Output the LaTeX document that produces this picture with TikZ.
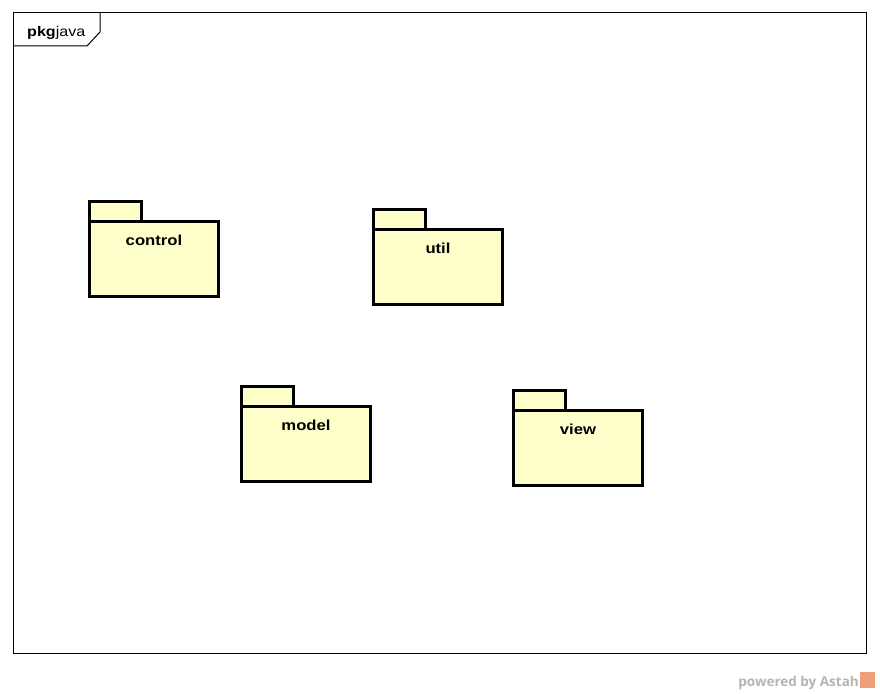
\documentclass[tikz,border=0pt]{standalone}
\usepackage{fontspec}
\setmainfont{Liberation Sans}
\newfontfamily\pkgfont[FakeStretch=1.15]{Liberation Sans}
\newfontfamily\wmfont{Open Sans}
\definecolor{pkgfill}{RGB}{255,255,204}
\definecolor{wmgray}{RGB}{180,180,180}
\definecolor{wmorange}{RGB}{236,160,120}
\begin{document}
\begin{tikzpicture}[x=1pt,y=-1pt,
  pkgline/.style={draw=black,line width=3pt,fill=pkgfill,line join=miter,outer sep=0pt},
  pkgbody/.style={pkgline,rectangle,minimum width=129pt,minimum height=75pt,anchor=north west,inner sep=0pt},
  pkgtab/.style={pkgline,rectangle,minimum width=52pt,minimum height=20pt,anchor=south west,inner sep=0pt},
  pkgname/.style={font=\pkgfont\fontsize{14.5}{16}\selectfont\bfseries,anchor=base,inner sep=0pt}]
\useasboundingbox (0,0) rectangle (880,693);
% frame
\draw[line width=1pt] (13,13) rectangle (866,653);
\draw[line width=1pt] (13,46) -- (87,46) -- (100,32) -- (100,13);
\node[anchor=base west,inner sep=0pt,font=\pkgfont\fontsize{14}{16}\selectfont] (title) at (27,37) {\textbf{pkg}java};
% packages
\node[pkgtab] (controltab) at (89,221) {};
\node[pkgbody] (control) at (89,221) {};
\node[pkgname] (controlname) at (154,245) {control};
\node[pkgtab] (utiltab) at (373,229) {};
\node[pkgbody] (util) at (373,229) {};
\node[pkgname] (utilname) at (438,253) {util};
\node[pkgtab] (modeltab) at (241,406) {};
\node[pkgbody] (model) at (241,406) {};
\node[pkgname] (modelname) at (306,430) {model};
\node[pkgtab] (viewtab) at (513,410) {};
\node[pkgbody] (view) at (513,410) {};
\node[pkgname] (viewname) at (578,434) {view};
% watermark
\node[anchor=base east,inner sep=0pt,text=wmgray,font=\wmfont\fontsize{13.5}{16}\selectfont\bfseries] (wm) at (859,686) {powered by Astah};
\fill[wmorange] (860,672) rectangle (875,688);
\end{tikzpicture}
\end{document}
